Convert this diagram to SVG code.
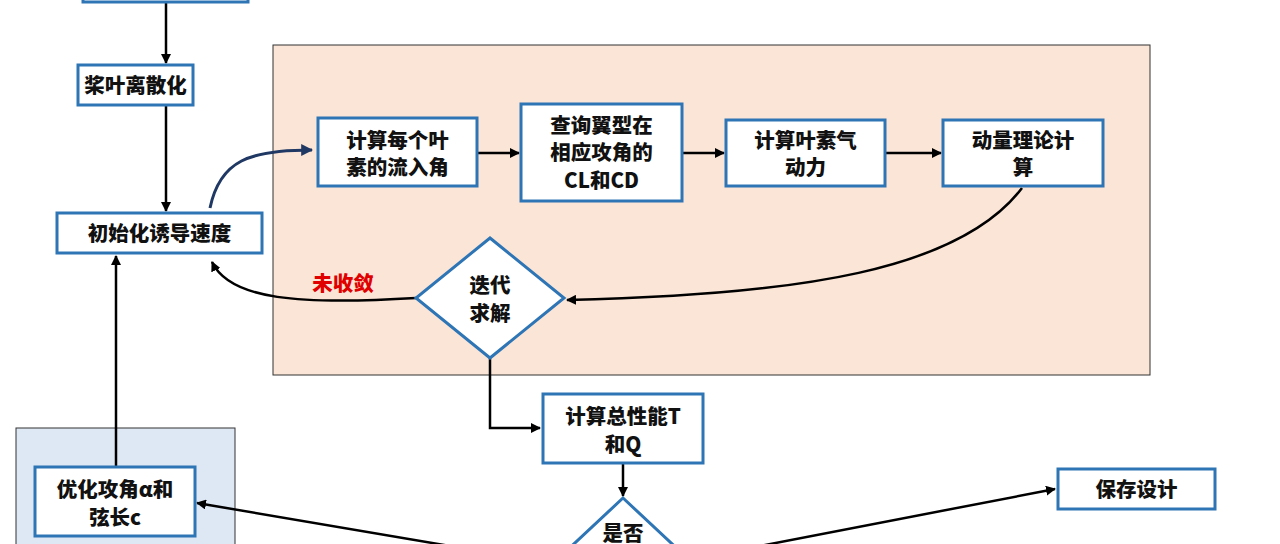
<svg xmlns="http://www.w3.org/2000/svg" width="1280" height="544" viewBox="0 0 1280 544">
<style>
.box{fill:#fff;stroke:#2e75b6;stroke-width:3}
.t{font-family:"Noto Sans CJK SC","Liberation Sans",sans-serif;font-weight:900;font-size:20.5px;fill:#111;text-anchor:middle}
.c{fill:none;stroke:#000;stroke-width:2.5}
</style>
<defs>
<marker id="a" viewBox="0 0 10 10" refX="9" refY="5" markerWidth="4" markerHeight="4" orient="auto"><path d="M0,0L10,5L0,10z" fill="#000"/></marker>
<marker id="b" viewBox="0 0 10 10" refX="9" refY="5" markerWidth="4" markerHeight="4" orient="auto"><path d="M0,0L10,5L0,10z" fill="#1f3864"/></marker>
</defs>
<rect width="1280" height="544" fill="#fff"/>
<rect x="273" y="45" width="877" height="330" fill="#fbe5d6" stroke="#333" stroke-width="1"/>
<rect x="16" y="428" width="219" height="130" fill="#dee8f4" stroke="#333" stroke-width="1"/>
<g id="connectors">
<path class="c" d="M166,2V63" marker-end="url(#a)"/>
<path class="c" d="M166,105V211" marker-end="url(#a)"/>
<path d="M210,208C220,160 250,150 312,150" fill="none" stroke="#1f3864" stroke-width="3" marker-end="url(#b)"/>
<path class="c" d="M477,153H519" marker-end="url(#a)"/>
<path class="c" d="M682,153H724" marker-end="url(#a)"/>
<path class="c" d="M885,153H941" marker-end="url(#a)"/>
<path class="c" d="M1022,188C960,270 800,295 567,300" marker-end="url(#a)"/>
<path class="c" d="M416,298C300,305 230,300 212,262" marker-end="url(#a)"/>
<path class="c" d="M490,358V428H540" marker-end="url(#a)"/>
<path class="c" d="M623,463V496" marker-end="url(#a)"/>
<path class="c" d="M116,467V256" marker-end="url(#a)"/>
<path class="c" d="M450,546L197,503" stroke-width="3.5" marker-end="url(#a)"/>
<path class="c" d="M760,546L1055,489" stroke-width="3.5" marker-end="url(#a)"/>
</g>
<g id="n0"><rect class="box" x="83" y="-10" width="165" height="12"/></g>
<g id="n1"><rect class="box" x="78" y="65" width="115" height="40"/><text class="t" x="135.5" y="93">桨叶离散化</text></g>
<g id="n2"><rect class="box" x="57" y="213" width="205" height="40"/><text class="t" x="159.5" y="241">初始化诱导速度</text></g>
<g id="n3"><rect class="box" x="318" y="118" width="159" height="68"/><text class="t" x="397.5" y="148">计算每个叶</text><text class="t" x="397.5" y="175">素的流入角</text></g>
<g id="n4"><rect class="box" x="521" y="104" width="161" height="97"/><text class="t" x="601.5" y="133">查询翼型在</text><text class="t" x="601.5" y="160">相应攻角的</text><text class="t" x="601.5" y="188">CL和CD</text></g>
<g id="n5"><rect class="box" x="726" y="120" width="159" height="66"/><text class="t" x="805.5" y="148">计算叶素气</text><text class="t" x="805.5" y="175">动力</text></g>
<g id="n6"><rect class="box" x="943" y="120" width="160" height="66"/><text class="t" x="1023" y="148">动量理论计</text><text class="t" x="1023" y="175">算</text></g>
<g id="n7"><path class="box" d="M490,238L564,298L490,358L416,298z"/><text class="t" x="490" y="293">迭代</text><text class="t" x="490" y="321">求解</text></g>
<text x="343" y="291" font-family="Noto Sans CJK SC,sans-serif" font-weight="900" font-size="20.5" fill="#e00000" text-anchor="middle">未收敛</text>
<g id="n8"><rect class="box" x="543" y="394" width="160" height="69"/><text class="t" x="623" y="424">计算总性能T</text><text class="t" x="623" y="452">和Q</text></g>
<g id="n9"><rect class="box" x="35" y="467" width="160" height="69"/><text class="t" x="115" y="497">优化攻角α和</text><text class="t" x="115" y="525">弦长c</text></g>
<g id="n10"><rect class="box" x="1058" y="469" width="157" height="40"/><text class="t" x="1136.5" y="497">保存设计</text></g>
<g id="n11"><path class="box" d="M623,498L700,570L623,642L546,570z"/><text class="t" x="623" y="541">是否</text></g>
</svg>
